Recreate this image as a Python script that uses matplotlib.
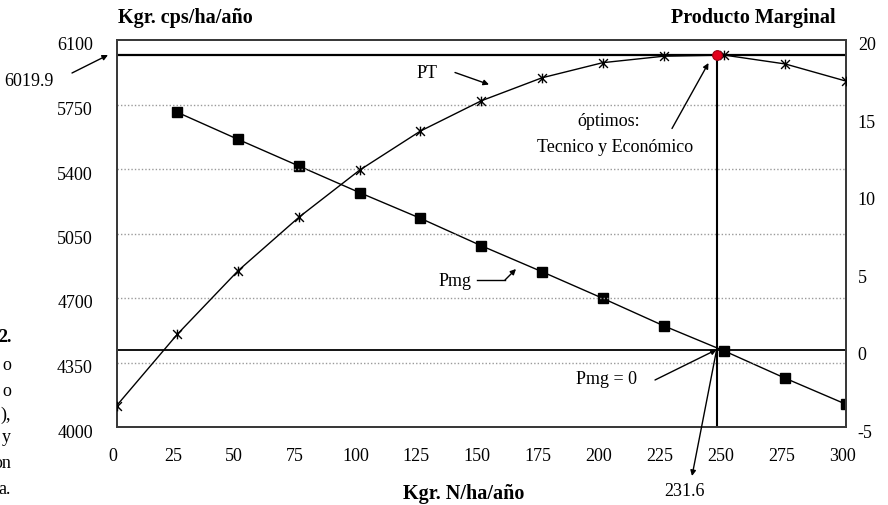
import matplotlib
matplotlib.use("Agg")
import matplotlib.pyplot as plt
from matplotlib.path import Path
from matplotlib.transforms import ScaledTranslation

# Nitrogen dose (kg N/ha/año)
dosis = [0, 25, 50, 75, 100, 125, 150, 175, 200, 225, 250, 275, 300]
# Producto total (kg cps/ha/año)
pt = [4115, 4503, 4848, 5138, 5394, 5606, 5770, 5895, 5977, 6012, 6018, 5970, 5877]
# Producto marginal, defined from 25 onwards
dosis_pmg = [25, 50, 75, 100, 125, 150, 175, 200, 225, 250, 275, 300]
pmg = [15.33, 13.58, 11.86, 10.14, 8.48, 6.71, 5.03, 3.31, 1.54, -0.09, -1.85, -3.53]

# Optimum point
opt_x = 246.8
opt_pt = 6019.9
opt_label = "231.6"

x_ticks = [0, 25, 50, 75, 100, 125, 150, 175, 200, 225, 250, 275, 300]
y_ticks = [4000, 4350, 4700, 5050, 5400, 5750, 6100]
y2_ticks = [-5, 0, 5, 10, 15, 20]
grid_levels = [4350, 4700, 5050, 5400, 5750]

plt.rcParams["font.family"] = ["Liberation Serif", "DejaVu Serif"]

W, H, DPI = 888, 505, 100
fig = plt.figure(figsize=(W / DPI, H / DPI), dpi=DPI)
x0, x1, ytop, ybot = 116.5, 846, 40, 427
ax = fig.add_axes([x0 / W, 1 - ybot / H, (x1 - x0) / W, (ybot - ytop) / H])
ax2 = ax.twinx()

ax.set_xlim(0, 300)
ax.set_ylim(4000, 6100)
ax2.set_ylim(-5, 20)

# star marker: an X with a vertical stroke
star = Path([(-1, -1), (1, 1), (-1, 1), (1, -1), (0, -1.1), (0, 1.1)],
            [Path.MOVETO, Path.LINETO, Path.MOVETO, Path.LINETO, Path.MOVETO, Path.LINETO])

for g in grid_levels:
    ax.axhline(g, color="#9a9a9a", lw=1.0, ls=(0, (1, 1.5)), zorder=1)

# reference lines
ax.axhline(opt_pt, color="black", lw=1.6, zorder=2)
ax2.axhline(0, color="black", lw=1.3, zorder=2)
ax.plot([opt_x, opt_x], [4000, opt_pt], color="black", lw=1.5, zorder=2)

ax.plot(dosis, pt, color="black", lw=1.0, marker=star, ms=7, mew=1.0,
        mfc="none", mec="black", zorder=3)
ax2.plot(dosis_pmg, pmg, color="black", lw=1.0, marker="s", ms=7.8,
         mfc="black", mec="black", zorder=3)
ax.plot([opt_x], [opt_pt], marker="o", ms=7, mfc="#e3001b", mec="#9b0012",
        mew=0.8, zorder=5)

ax.set_zorder(ax2.get_zorder() + 1)
ax.patch.set_visible(False)

for a in (ax, ax2):
    for s in a.spines.values():
        s.set_color("#3a3a3a")
        s.set_linewidth(1.4)

fs = 13
tfs = 14.5
ax.set_xticks(x_ticks)
ax.set_xticklabels([str(v) for v in x_ticks], fontsize=fs)
ax.set_yticks(y_ticks)
ax.set_yticklabels([str(v) for v in y_ticks], fontsize=fs)
ax2.set_yticks(y2_ticks)
ax2.set_yticklabels([str(v) for v in y2_ticks], fontsize=fs)
ax.tick_params(axis="x", length=0, pad=15)
ax.tick_params(axis="y", length=0, pad=17)
ax2.tick_params(axis="y", length=0, pad=8.5)

dn = ScaledTranslation(0, -4 / DPI, fig.dpi_scale_trans)
for lab in ax.get_yticklabels() + ax2.get_yticklabels():
    lab.set_transform(lab.get_transform() + dn)
lf = ScaledTranslation(-4 / DPI, 0, fig.dpi_scale_trans)
for lab in ax.get_xticklabels():
    lab.set_transform(lab.get_transform() + lf)


def fig_text(px, py, s, **kw):
    fig.text(px / W, 1 - py / H, s, **kw)


def px2fig(px, py):
    return (px / W, 1 - py / H)


# titles
fig_text(185, 18, "Kgr. cps/ha/año", ha="center", va="center", fontsize=tfs, fontweight="bold")
fig_text(753, 18, "Producto Marginal", ha="center", va="center", fontsize=tfs, fontweight="bold")
fig_text(464, 494, "Kgr. N/ha/año", ha="center", va="center", fontsize=tfs, fontweight="bold")

# annotations
arrow = dict(arrowstyle="-|>", color="black", lw=1.0, mutation_scale=8,
             shrinkA=0, shrinkB=0)

fig_text(29, 81, f"{opt_pt:.1f}", ha="center", va="center", fontsize=fs)
ax.annotate("", xy=px2fig(108, 55), xytext=px2fig(72, 73), xycoords="figure fraction",
            textcoords="figure fraction", arrowprops=arrow)

fig_text(427, 74, "PT", ha="center", va="center", fontsize=fs)
ax.annotate("", xy=px2fig(489, 84.5), xytext=px2fig(455, 72.5), xycoords="figure fraction",
            textcoords="figure fraction", arrowprops=arrow)

fig_text(455, 282, "Pmg", ha="center", va="center", fontsize=fs)
fig.add_artist(plt.Line2D([477 / W, 505 / W], [1 - 280 / H, 1 - 280 / H], color="black", lw=1.0))
ax.annotate("", xy=px2fig(516, 269), xytext=px2fig(505, 280), xycoords="figure fraction",
            textcoords="figure fraction", arrowprops=arrow)

fig_text(606, 380, "Pmg = 0", ha="center", va="center", fontsize=fs)
ax.annotate("", xy=(opt_x, 0), xycoords=ax2.transData, xytext=px2fig(655, 380),
            textcoords="figure fraction", arrowprops=arrow)

fig_text(609, 122, "óptimos:", ha="center", va="center", fontsize=fs)
fig_text(615, 148, "Tecnico y Económico", ha="center", va="center", fontsize=fs)
ax.annotate("", xy=px2fig(708.5, 63), xytext=px2fig(672, 128.5), xycoords="figure fraction",
            textcoords="figure fraction", arrowprops=arrow)

fig_text(684, 492, opt_label, ha="center", va="center", fontsize=fs)
ax.annotate("", xy=px2fig(692, 476), xytext=(opt_x, 0), textcoords=ax2.transData,
            xycoords="figure fraction", arrowprops=arrow)

# caption fragments at the left margin
fig_text(12, 337, "2.", ha="right", va="center", fontsize=fs, fontweight="bold")
for yy, s in [(365, "o"), (391.5, "o"), (415, "),"), (437, "y"), (463, "on"), (490, "a.")]:
    fig_text(11, yy, s, ha="right", va="center", fontsize=fs)

fig.savefig("out.png", dpi=DPI)
